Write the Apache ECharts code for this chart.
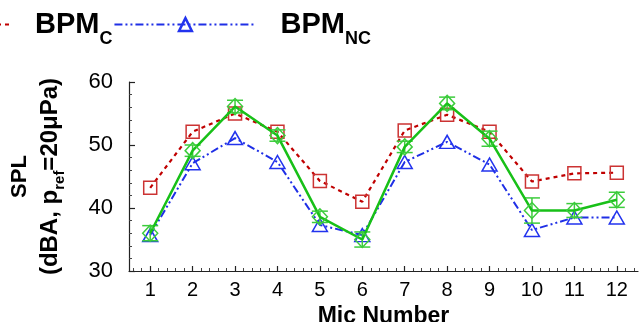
<!DOCTYPE html>
<html><head><meta charset="utf-8">
<script src="https://cdn.jsdelivr.net/npm/echarts@6/dist/echarts.min.js"></script>
<style>html,body{margin:0;padding:0;background:#fff}#c{width:641px;height:322px}</style>
</head><body><div id="c"></div>
<script>
// ---- data ----
const mics = [1,2,3,4,5,6,7,8,9,10,11,12];
const bpmC = [43.2,52.1,55.0,52.1,44.3,41.0,52.3,54.8,52.1,44.2,45.5,45.6];
const bpmNC = [35.7,47.1,51.1,47.3,37.3,35.7,47.3,50.5,46.9,36.5,38.5,38.5];
const measured = [36.0,49.1,56.1,51.5,38.6,35.0,49.7,56.6,51.0,39.6,39.6,41.3];
const measuredErr = [1.2,0.9,1.0,0.9,0.9,1.2,0.9,1.0,1.2,2.0,1.1,1.2];
const xTickLabels = [1,2,3,4,5,6,7,8,9,10,11,12];
const yTickLabels = [30,40,50,60];

const FONT = "'Liberation Sans', Arial, sans-serif";
const minorX = [];
for (let k = 3; k <= 62; k++) { const v = Math.round(k * 0.2 * 10) / 10; if (Math.abs(v - Math.round(v)) > 1e-6) minorX.push(v); }

const chart = echarts.init(document.getElementById('c'), null, {renderer: 'canvas'});
const errStyle = {stroke: '#3ccc3c', lineWidth: 1.5};
const option = {
  animation: false,
  backgroundColor: '#fff',
  textStyle: {fontFamily: FONT},
  grid: {left: 129, right: 3, top: 82, bottom: 51, containLabel: false, outerBoundsMode: 'none'},
  legend: {
    data: [
      {name: 'BPM_C', itemStyle: {borderWidth: 1.5}},
      {name: 'BPM_NC', itemStyle: {borderWidth: 2.5}}
    ],
    left: -132, top: 10, padding: 0,
    itemWidth: 142, itemHeight: 16, itemGap: 1,
    selectedMode: false,
    formatter: function (n) { return n === 'BPM_C' ? '{b|BPM}{s|C}' : '{b|BPM}{s|NC}'; },
    textStyle: {
      padding: [0, 0, 0, 19],
      rich: {
        b: {fontSize: 29, fontWeight: 'bold', color: '#000', fontFamily: FONT, verticalAlign: 'middle', lineHeight: 32},
        s: {fontSize: 18, fontWeight: 'bold', color: '#000', fontFamily: FONT, verticalAlign: 'bottom', lineHeight: 32, padding: [0, 0, -8, 0]}
      }
    }
  },
  xAxis: [{
    type: 'value', min: 0.5, max: 12.5, interval: 1,
    name: 'Mic Number', nameLocation: 'middle', nameGap: 25,
    nameTextStyle: {fontSize: 23, fontWeight: 'bold', color: '#000', fontFamily: FONT},
    axisLine: {show: true, onZero: false, lineStyle: {color: '#222', width: 1.2}},
    axisTick: {show: true, inside: true, length: 5, customValues: xTickLabels, lineStyle: {color: '#222', width: 1.2}},
    axisLabel: {show: true, customValues: xTickLabels, fontSize: 20, color: '#000', margin: 9, fontFamily: FONT},
    splitLine: {show: false}
  }, {
    type: 'value', min: 0.5, max: 12.5, position: 'bottom',
    axisLine: {show: false},
    axisTick: {show: true, inside: true, length: 3, customValues: minorX, lineStyle: {color: '#444', width: 1}},
    axisLabel: {show: false},
    splitLine: {show: false}
  }],
  yAxis: {
    type: 'value', min: 30, max: 60, interval: 10,
    name: '{a|SPL}\n{b|(dBA, p}{sub|ref}{b|=20\u03bcPa)}',
    nameLocation: 'middle', nameGap: 64, nameRotate: 90,
    nameTextStyle: {
      rich: {
        a: {fontSize: 22, fontWeight: 'bold', color: '#000', fontFamily: FONT, lineHeight: 30, verticalAlign: 'middle'},
        b: {fontSize: 24, fontWeight: 'bold', color: '#000', fontFamily: FONT, lineHeight: 30, verticalAlign: 'middle'},
        sub: {fontSize: 15, fontWeight: 'bold', color: '#000', fontFamily: FONT, lineHeight: 30, verticalAlign: 'bottom', padding: [0, 0, -2, 0]}
      }
    },
    axisLine: {show: true, lineStyle: {color: '#222', width: 1.2}},
    axisTick: {show: true, inside: true, length: 6, lineStyle: {color: '#222', width: 1.2}},
    minorTick: {show: true, splitNumber: 5, length: 3, lineStyle: {color: '#444', width: 1}},
    axisLabel: {fontSize: 22, color: '#000', margin: 16, fontFamily: FONT},
    splitLine: {show: false}
  },
  series: [
    {
      name: 'BPM_C', type: 'line',
      data: mics.map((m, i) => [m, bpmC[i]]),
      symbol: 'rect', symbolSize: 13,
      itemStyle: {color: 'rgba(255,255,255,0)', borderColor: '#cc3333', borderWidth: 1.5},
      lineStyle: {color: '#c00000', width: 2.2, type: [4, 4]},
      z: 2
    },
    {
      name: 'BPM_NC', type: 'line',
      data: mics.map((m, i) => [m, bpmNC[i]]),
      symbol: 'triangle', symbolSize: [15, 13],
      itemStyle: {color: 'rgba(255,255,255,0)', borderColor: '#2233ee', borderWidth: 1.5},
      lineStyle: {color: '#1f2fe6', width: 2, type: [8, 3, 2, 3, 2, 3]},
      z: 3
    },
    {
      name: 'MeasuredErr', type: 'custom',
      data: mics.map((m, i) => [m, measured[i] - measuredErr[i], measured[i] + measuredErr[i]]),
      encode: {x: 0, y: [1, 2]},
      renderItem: function (params, api) {
        const x = api.value(0);
        const pLo = api.coord([x, api.value(1)]);
        const pHi = api.coord([x, api.value(2)]);
        const hw = 8;
        return {type: 'group', children: [
          {type: 'line', shape: {x1: pLo[0], y1: pLo[1], x2: pHi[0], y2: pHi[1]}, style: errStyle},
          {type: 'line', shape: {x1: pLo[0] - hw, y1: pLo[1], x2: pLo[0] + hw, y2: pLo[1]}, style: errStyle},
          {type: 'line', shape: {x1: pHi[0] - hw, y1: pHi[1], x2: pHi[0] + hw, y2: pHi[1]}, style: errStyle}
        ]};
      },
      z: 4
    },
    {
      name: 'Measured', type: 'line',
      data: mics.map((m, i) => [m, measured[i]]),
      symbol: 'diamond', symbolSize: [15, 16],
      itemStyle: {color: 'rgba(255,255,255,0)', borderColor: '#3ccc3c', borderWidth: 1.5},
      lineStyle: {color: '#18c018', width: 2.5},
      z: 5
    }
  ]
};
chart.setOption(option);
</script>
</body></html>
